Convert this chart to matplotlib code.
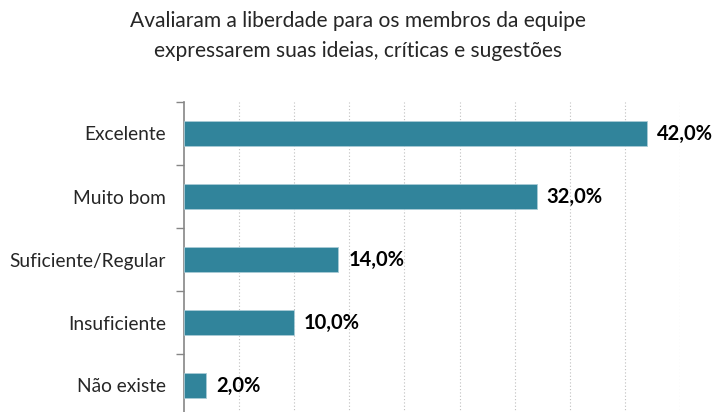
import matplotlib
matplotlib.use("Agg")
import matplotlib.pyplot as plt

categorias = ["Excelente", "Muito bom", "Suficiente/Regular", "Insuficiente", "Não existe"]
valores = [42.0, 32.0, 14.0, 10.0, 2.0]
titulo = "Avaliaram a liberdade para os membros da equipe\nexpressarem suas ideias, críticas e sugestões"

plt.rcParams["font.family"] = ["Lato", "DejaVu Sans"]

fig = plt.figure(figsize=(7.16, 4.12), dpi=100)
ax = fig.add_axes([184 / 716, -5 / 412, (680 - 184) / 716, 315 / 412])

pos = list(range(len(categorias)))
ax.barh(pos, valores, height=0.4, color="#31849B", edgecolor="#A9CBD6", linewidth=0.6, zorder=3)

for p, v in zip(pos, valores):
    ax.text(v + 0.9, p, f"{v:.1f}%".replace(".", ","), va="center", ha="left",
            fontsize=14.5, fontweight="bold", color="#000000")

ax.set_xlim(0, 45)
ax.set_ylim(len(categorias) - 0.5, -0.5)
ax.set_xticks(range(5, 50, 5))
ax.xaxis.grid(True, color="#BFBFBF", linestyle=(0, (1, 2)), linewidth=0.8, zorder=0)
ax.tick_params(axis="x", length=0, labelbottom=False)

ax.set_yticks([p - 0.5 for p in pos] + [len(categorias) - 0.5])
ax.set_yticklabels([])
ax.set_yticks(pos, minor=True)
ax.set_yticklabels(categorias, minor=True, fontsize=13.8, color="#262626")
ax.tick_params(axis="y", which="major", length=6, width=1, color="#868686", direction="out")
ax.tick_params(axis="y", which="minor", length=0, pad=13)

for s in ["top", "right", "bottom"]:
    ax.spines[s].set_visible(False)
ax.spines["left"].set_color("#868686")
ax.spines["left"].set_linewidth(1.2)

fig.text(358 / 716, 1 - 36 / 412, titulo, ha="center", va="center", fontsize=15.1,
         color="#262626", linespacing=1.6)

fig.savefig("out.png", dpi=100)
